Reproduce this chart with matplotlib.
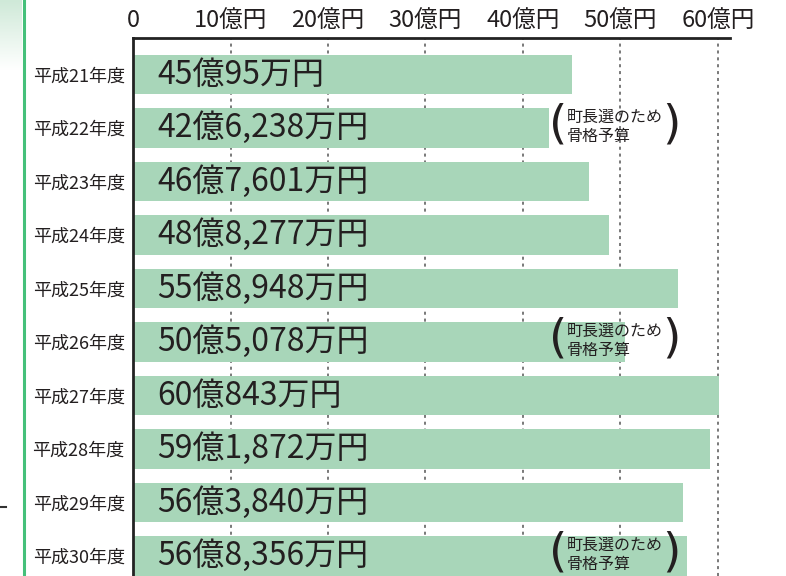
import numpy as np
import matplotlib
matplotlib.use("Agg")
import matplotlib.pyplot as plt
from matplotlib.lines import Line2D

plt.rcParams['font.family'] = ['Noto Sans CJK JP', 'DejaVu Sans']

# budget per year, in 億円
years = ['平成21年度', '平成22年度', '平成23年度', '平成24年度', '平成25年度',
         '平成26年度', '平成27年度', '平成28年度', '平成29年度', '平成30年度']
budget = [45.0095, 42.6238, 46.7601, 48.8277, 55.8948,
          50.5078, 60.0843, 59.1872, 56.3840, 56.8356]
value_labels = ['45億95万円', '42億6,238万円', '46億7,601万円', '48億8,277万円', '55億8,948万円',
                '50億5,078万円', '60億843万円', '59億1,872万円', '56億3,840万円', '56億8,356万円']
note_rows = [1, 5, 9]
note_text = '町長選のため\n骨格予算'
xticks = [0, 10, 20, 30, 40, 50, 60]
xtick_labels = ['0', '10億円', '20億円', '30億円', '40億円', '50億円', '60億円']

bar_color = '#a8d6b9'
text_color = '#231f20'

W, H = 786, 576
fig = plt.figure(figsize=(W / 100, H / 100), dpi=100)

# left decoration: faded green block and a green rule
deco = fig.add_axes([0, 1 - 70 / H, 22 / W, 70 / H])
grad = np.linspace(0, 1, 100).reshape(-1, 1)
cmap = matplotlib.colors.LinearSegmentedColormap.from_list('g', ['#cfe9d8', '#ffffff'])
deco.imshow(grad, aspect='auto', cmap=cmap, extent=[0, 1, 0, 1])
deco.axis('off')
fig.add_artist(Line2D([23.5 / W, 23.5 / W], [0, 1], color='#45c07a', lw=2.2))
fig.add_artist(Line2D([0, 6 / W], [1 - 507 / H, 1 - 507 / H], color='#333333', lw=1.5))

ax = fig.add_axes([133 / W, 0, (730 - 133) / W, (H - 38) / H])
y = np.arange(len(years))

for xv in xticks[1:]:
    ax.axvline(xv, color='#555555', lw=1.1, ls=(0, (2, 2.5)), zorder=0)

ax.barh(y, budget, height=0.73, color=bar_color, zorder=2)

for i, lab in enumerate(value_labels):
    ax.text(2.5, y[i], lab, va='center', ha='left', fontsize=23, color=text_color, zorder=3)

for r in note_rows:
    ax.text(44.5, r - 0.02, note_text, va='center', ha='left', fontsize=11.5,
            color=text_color, linespacing=1.2, zorder=4)
    ax.text(42.7, r - 0.06, '(', va='center', ha='left', fontsize=34, color=text_color,
            fontfamily='DejaVu Sans', zorder=4)
    ax.text(54.3, r - 0.06, ')', va='center', ha='left', fontsize=34, color=text_color,
            fontfamily='DejaVu Sans', zorder=4)

ax.set_xlim(0, (730 - 133) / 9.75)
ax.set_ylim((576 - 74.5) / 53.5, -(74.5 - 38) / 53.5)

ax.xaxis.tick_top()
ax.set_xticks(xticks)
ax.set_xticklabels(xtick_labels, fontsize=17, color=text_color)
ax.set_yticks(y)
ax.set_yticklabels(years, fontsize=13, color=text_color)
ax.tick_params(axis='both', length=0)
ax.tick_params(axis='x', pad=4)
ax.tick_params(axis='y', pad=6)

for s in ['right', 'bottom']:
    ax.spines[s].set_visible(False)
for s in ['top', 'left']:
    ax.spines[s].set_linewidth(2)
    ax.spines[s].set_color('#222222')

fig.savefig('out.png', dpi=100)
